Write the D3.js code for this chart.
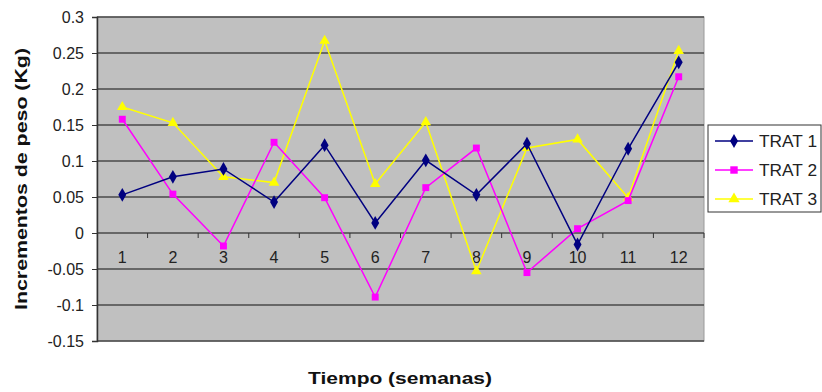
<!DOCTYPE html>
<html><head><meta charset="utf-8">
<script src="https://cdn.jsdelivr.net/npm/d3@7"></script>
<style>body{margin:0;background:#fff}svg{display:block}text{font-family:Arial,"Liberation Sans",sans-serif}</style>
</head><body><svg id="c" width="822" height="392"></svg>
<script>
const categories = ["1","2","3","4","5","6","7","8","9","10","11","12"];
const trat1 = [0.053,0.078,0.089,0.043,0.122,0.014,0.101,0.053,0.124,-0.016,0.117,0.237];
const trat2 = [0.158,0.054,-0.018,0.126,0.049,-0.089,0.063,0.118,-0.055,0.006,0.045,0.217];
const trat3 = [0.175,0.153,0.078,0.070,0.267,0.068,0.154,-0.053,0.118,0.130,0.049,0.253];
const yTicks = [0.3,0.25,0.2,0.15,0.1,0.05,0,-0.05,-0.1,-0.15];
const seriesNames = ["TRAT 1","TRAT 2","TRAT 3"];
const seriesColors = ["#000080","#ff00ff","#ffff00"];
const seriesSymbols = [d3.symbolDiamond, d3.symbolSquare, d3.symbolTriangle];

const svg = d3.select("#c");
const L=97, T=17, R=704, B=341;
const x = d3.scaleBand().domain(categories).range([L,R]);
const y = d3.scaleLinear().domain([-0.15,0.3]).range([B,T]);

svg.append("rect").attr("x",L).attr("y",T).attr("width",R-L).attr("height",B-T).attr("fill","#c0c0c0").attr("stroke","#9a9a9a");

// gridlines
svg.append("g").selectAll("line").data(yTicks).join("line")
  .attr("x1",L).attr("x2",R).attr("y1",d=>y(d)).attr("y2",d=>y(d))
  .attr("stroke","#4a4a4a").attr("stroke-width",1.5);

// y axis
const ya = svg.append("g").attr("transform",`translate(${L},0)`)
  .call(d3.axisLeft(y).tickValues(yTicks).tickSize(5).tickFormat(d=>String(d)));
ya.select(".domain").attr("stroke","#333").attr("stroke-width",1.5);
ya.selectAll(".tick line").attr("stroke","#333");
ya.selectAll(".tick text").attr("font-size",16).attr("fill","#222").attr("x",-13);

// x axis at zero
const xa = svg.append("g").attr("transform",`translate(0,${y(0)})`)
  .call(d3.axisBottom(x).tickSize(0).tickPadding(19));
xa.select(".domain").remove();
xa.selectAll(".tick text").attr("font-size",16).attr("fill","#222");
svg.append("g").selectAll("line").data(categories.slice(1).concat(["end"])).join("line")
  .attr("x1",(d,i)=>L+(i+1)*x.bandwidth()).attr("x2",(d,i)=>L+(i+1)*x.bandwidth())
  .attr("y1",y(0)).attr("y2",y(0)+5).attr("stroke","#333");

const allSeries=[trat1,trat2,trat3];
const line = d3.line().x((d,i)=>x(categories[i])+x.bandwidth()/2).y(d=>y(d));
[2,1,0].forEach(s=>{
  const g=svg.append("g");
  g.append("path").datum(allSeries[s]).attr("d",line).attr("fill","none")
   .attr("stroke",seriesColors[s]).attr("stroke-width",1.5);
  g.selectAll("path.m").data(allSeries[s]).join("path").attr("class","m")
   .attr("transform",(d,i)=>`translate(${x(categories[i])+x.bandwidth()/2},${y(d)})`)
   .attr("d",d3.symbol().type(seriesSymbols[s]).size(s===0?55:48)).attr("fill",seriesColors[s]);
});

// legend
const lg=svg.append("g");
lg.append("rect").attr("x",708).attr("y",125).attr("width",113).attr("height",87).attr("fill","#fff").attr("stroke","#333");
seriesNames.forEach((n,i)=>{
  const yy=141+i*29;
  lg.append("line").attr("x1",715).attr("x2",753).attr("y1",yy).attr("y2",yy).attr("stroke",seriesColors[i]).attr("stroke-width",1.5);
  lg.append("path").attr("transform",`translate(734,${yy})`).attr("d",d3.symbol().type(seriesSymbols[i]).size(55)).attr("fill",seriesColors[i]);
  lg.append("text").attr("x",759).attr("y",yy+6).attr("font-size",16).attr("textLength",58).attr("lengthAdjust","spacingAndGlyphs").attr("fill","#222").text(n);
});

svg.append("text").attr("transform","translate(27,179) rotate(-90)").attr("text-anchor","middle")
  .attr("font-size",17).attr("font-weight","bold").attr("fill","#111")
  .attr("textLength",262).attr("lengthAdjust","spacingAndGlyphs").text("Incrementos de peso (Kg)");
svg.append("text").attr("x",400).attr("y",384).attr("text-anchor","middle")
  .attr("font-size",17).attr("font-weight","bold").attr("fill","#111")
  .attr("textLength",184).attr("lengthAdjust","spacingAndGlyphs").text("Tiempo (semanas)");
</script></body></html>
